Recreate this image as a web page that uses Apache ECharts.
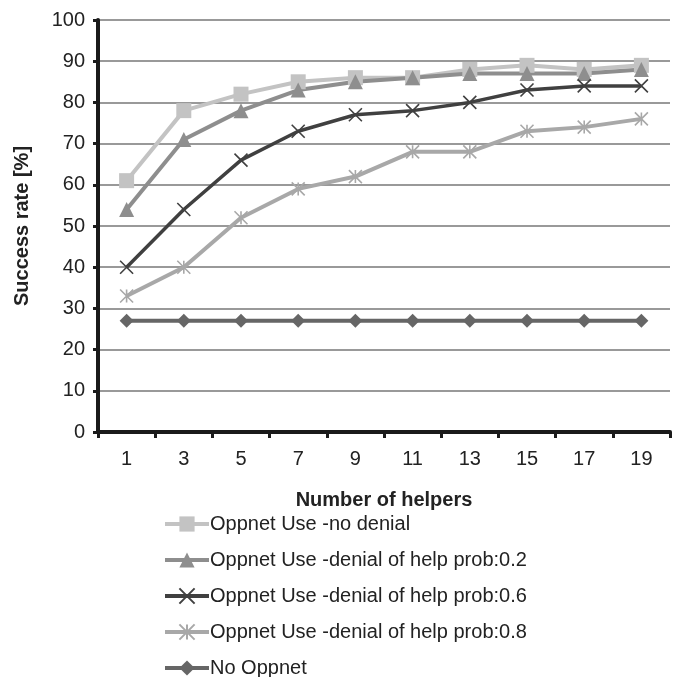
<!DOCTYPE html>
<html>
<head>
<meta charset="utf-8">
<script src="https://cdn.jsdelivr.net/npm/echarts@6/dist/echarts.min.js"></script>
<style>
  html, body { margin: 0; padding: 0; background: #fff; }
  #chart { width: 678px; height: 677px; }
</style>
</head>
<body>
<div id="chart"></div>
<script>
// Number of helpers on the x axis
const helpers = ['1', '3', '5', '7', '9', '11', '13', '15', '17', '19'];

// Success rate [%] per scenario
const noDenial = [61, 78, 82, 85, 86, 86, 88, 89, 88, 89];
const denial02 = [54, 71, 78, 83, 85, 86, 87, 87, 87, 88];
const denial06 = [40, 54, 66, 73, 77, 78, 80, 83, 84, 84];
const denial08 = [33, 40, 52, 59, 62, 68, 68, 73, 74, 76];
const noOppnet = [27, 27, 27, 27, 27, 27, 27, 27, 27, 27];

const seriesNames = [
  'Oppnet Use -no denial',
  'Oppnet Use -denial of help prob:0.2',
  'Oppnet Use -denial of help prob:0.6',
  'Oppnet Use -denial of help prob:0.8',
  'No Oppnet'
];

const FONT = '"Liberation Sans", Arial, sans-serif';
const crossPath = 'path://M0,0L10,10M10,0L0,10';
const starPath = 'path://M5,0L5,10M0,0L10,10M10,0L0,10';

function lineSeries(name, data, color, symbol, size, width, strokeOnly) {
  return {
    name: name,
    type: 'line',
    data: data,
    symbol: symbol,
    symbolSize: size,
    showAllSymbol: true,
    lineStyle: { color: color, width: width },
    itemStyle: strokeOnly
      ? { color: 'rgba(0,0,0,0)', borderColor: color, borderWidth: 1.6 }
      : { color: color, borderWidth: 0 },
    emphasis: { disabled: true },
    animation: false
  };
}

const chart = echarts.init(document.getElementById('chart'), null, { renderer: 'canvas' });
chart.setOption({
  backgroundColor: '#ffffff',
  textStyle: { fontFamily: FONT },
  grid: { left: 98, right: 8, top: 20, bottom: 245 },
  legend: {
    orient: 'vertical',
    left: 158,
    top: 508,
    height: 175,
    itemWidth: 44,
    itemHeight: 19,
    itemGap: 14,
    lineStyle: { width: 4 },
    textStyle: { fontFamily: FONT, fontSize: 20, color: '#222', padding: [0, 0, 0, -4], lineHeight: 22 },
    data: seriesNames
  },
  xAxis: {
    type: 'category',
    data: helpers,
    boundaryGap: true,
    name: 'Number of helpers',
    nameLocation: 'middle',
    nameGap: 58,
    nameTextStyle: { fontFamily: FONT, fontSize: 20, fontWeight: 'bold', color: '#222' },
    axisLine: { lineStyle: { color: '#1a1a1a', width: 4 } },
    axisTick: { show: true, alignWithLabel: false, length: 6, lineStyle: { color: '#1a1a1a', width: 3 } },
    axisLabel: { fontFamily: FONT, fontSize: 20, color: '#222', margin: 17 },
    splitLine: { show: false }
  },
  yAxis: {
    type: 'value',
    min: 0,
    max: 100,
    interval: 10,
    name: 'Success rate [%]',
    nameLocation: 'middle',
    nameGap: 66,
    nameRotate: 90,
    nameTextStyle: { fontFamily: FONT, fontSize: 20, fontWeight: 'bold', color: '#222' },
    axisLine: { show: true, lineStyle: { color: '#1a1a1a', width: 4 } },
    axisTick: { show: true, length: 5, lineStyle: { color: '#1a1a1a', width: 3 } },
    axisLabel: { fontFamily: FONT, fontSize: 20, color: '#222', margin: 13 },
    splitLine: { show: true, lineStyle: { color: '#999999', width: 2 } }
  },
  series: [
    lineSeries(seriesNames[0], noDenial, '#c3c3c3', 'rect', 15, 4, false),
    lineSeries(seriesNames[1], denial02, '#8e8e8e', 'triangle', 15, 4, false),
    lineSeries(seriesNames[2], denial06, '#404040', crossPath, 13, 3.5, true),
    lineSeries(seriesNames[3], denial08, '#a8a8a8', starPath, 13, 4, true),
    lineSeries(seriesNames[4], noOppnet, '#666666', 'diamond', 14, 4, false)
  ]
});
</script>
</body>
</html>
